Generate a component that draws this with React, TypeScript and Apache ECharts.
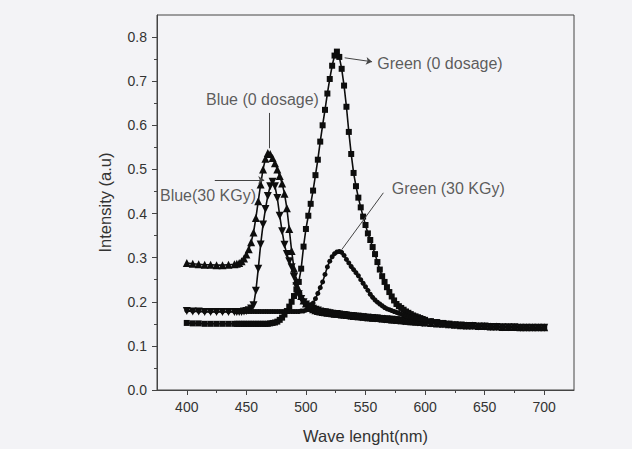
import React, { useEffect, useRef } from "react";
import * as echarts from "echarts";

// Wavelength grid (nm): 5 nm on the flat ends, 2 nm through the emission peaks.
const WAVELENGTH = [
  400, 405, 410, 415, 420, 425, 430, 435, 440,
  442, 444, 446, 448, 450, 452, 454, 456, 458, 460,
  462, 464, 466, 468, 470, 472, 474, 476, 478, 480,
  482, 484, 486, 488, 490, 492, 494, 496, 498, 500,
  502, 504, 506, 508, 510, 512, 514, 516, 518, 520,
  522, 524, 526, 528, 530, 532, 534, 536, 538, 540,
  542, 544, 546, 548, 550, 552, 554, 556, 558, 560,
  562, 564, 566, 568, 570, 572, 574, 576, 578, 580,
  582, 584, 586, 588, 590, 592, 594, 596, 598, 600,
  605, 610, 615, 620, 625, 630, 635, 640, 645, 650,
  655, 660, 665, 670, 675, 680, 685, 690, 695, 700,
];

const BLUE_0 = [
  0.288, 0.286, 0.285, 0.284, 0.284, 0.283, 0.283, 0.284, 0.285,
  0.286, 0.288, 0.292, 0.298, 0.307, 0.319, 0.335, 0.357, 0.39, 0.428,
  0.466, 0.5, 0.524, 0.537, 0.535, 0.526, 0.514, 0.5, 0.485, 0.468,
  0.445, 0.412, 0.365, 0.315, 0.275, 0.248, 0.228, 0.213, 0.203, 0.196,
  0.19, 0.186, 0.183, 0.181, 0.179, 0.178, 0.177, 0.176, 0.175, 0.175,
  0.174, 0.173, 0.173, 0.172, 0.171, 0.171, 0.17, 0.17, 0.169, 0.168,
  0.168, 0.167, 0.167, 0.166, 0.166, 0.165, 0.165, 0.164, 0.164, 0.163,
  0.163, 0.162, 0.162, 0.161, 0.161, 0.16, 0.16, 0.159, 0.159, 0.158,
  0.158, 0.157, 0.157, 0.156, 0.156, 0.155, 0.155, 0.154, 0.154, 0.153,
  0.152, 0.151, 0.15, 0.149, 0.148, 0.147, 0.146, 0.146, 0.145, 0.145,
  0.144, 0.144, 0.143, 0.143, 0.143, 0.142, 0.142, 0.142, 0.142, 0.142,
];

const BLUE_30 = [
  0.179, 0.178, 0.178, 0.177, 0.177, 0.177, 0.177, 0.177, 0.177,
  0.177, 0.177, 0.177, 0.178, 0.179, 0.181, 0.185, 0.192, 0.225, 0.275,
  0.33, 0.375, 0.41, 0.44, 0.462, 0.472, 0.462, 0.435, 0.395, 0.36,
  0.329, 0.308, 0.292, 0.278, 0.256, 0.235, 0.217, 0.206, 0.199, 0.194,
  0.19, 0.187, 0.184, 0.182, 0.18, 0.178, 0.177, 0.176, 0.175, 0.174,
  0.173, 0.172, 0.172, 0.171, 0.17, 0.17, 0.169, 0.168, 0.168, 0.167,
  0.166, 0.166, 0.165, 0.165, 0.164, 0.164, 0.163, 0.163, 0.162, 0.162,
  0.161, 0.161, 0.16, 0.16, 0.159, 0.159, 0.158, 0.158, 0.157, 0.157,
  0.156, 0.156, 0.155, 0.155, 0.154, 0.154, 0.153, 0.153, 0.152, 0.152,
  0.151, 0.15, 0.149, 0.148, 0.147, 0.146, 0.145, 0.145, 0.144, 0.144,
  0.143, 0.143, 0.142, 0.142, 0.142, 0.141, 0.141, 0.141, 0.141, 0.141,
];

const GREEN_0 = [
  0.152, 0.151, 0.151, 0.15, 0.15, 0.15, 0.15, 0.15, 0.15,
  0.15, 0.15, 0.15, 0.15, 0.15, 0.15, 0.15, 0.15, 0.15, 0.15,
  0.15, 0.15, 0.15, 0.15, 0.151, 0.152, 0.153, 0.155, 0.159, 0.164,
  0.171, 0.179, 0.189, 0.2, 0.213, 0.228, 0.245, 0.275, 0.325, 0.365,
  0.395, 0.422, 0.452, 0.487, 0.522, 0.563, 0.6, 0.635, 0.672, 0.705,
  0.735, 0.758, 0.767, 0.755, 0.728, 0.69, 0.642, 0.585, 0.535, 0.492,
  0.462, 0.436, 0.414, 0.393, 0.374, 0.355, 0.34, 0.324, 0.308, 0.29,
  0.273, 0.258, 0.245, 0.233, 0.222, 0.212, 0.203, 0.195, 0.19, 0.186,
  0.182, 0.178, 0.175, 0.172, 0.169, 0.167, 0.165, 0.163, 0.161, 0.159,
  0.156, 0.154, 0.152, 0.15, 0.148, 0.147, 0.146, 0.145, 0.145, 0.144,
  0.144, 0.143, 0.143, 0.142, 0.142, 0.142, 0.141, 0.141, 0.141, 0.141,
];

const GREEN_30 = [
  0.18, 0.179, 0.179, 0.178, 0.178, 0.178, 0.178, 0.178, 0.178,
  0.178, 0.178, 0.178, 0.178, 0.178, 0.178, 0.178, 0.178, 0.178, 0.178,
  0.178, 0.178, 0.178, 0.178, 0.178, 0.178, 0.178, 0.178, 0.178, 0.178,
  0.178, 0.178, 0.178, 0.178, 0.178, 0.178, 0.178, 0.179, 0.179, 0.181,
  0.185, 0.19, 0.197, 0.207, 0.219, 0.232, 0.245, 0.262, 0.279, 0.292,
  0.302, 0.309, 0.313, 0.314, 0.312, 0.305, 0.296, 0.288, 0.28, 0.273,
  0.266, 0.259, 0.25, 0.242, 0.234, 0.226, 0.217, 0.21, 0.204, 0.199,
  0.195, 0.191, 0.187, 0.184, 0.182, 0.18, 0.178, 0.176, 0.174, 0.172,
  0.17, 0.168, 0.166, 0.165, 0.164, 0.163, 0.162, 0.161, 0.16, 0.159,
  0.157, 0.155, 0.153, 0.151, 0.149, 0.148, 0.147, 0.146, 0.145, 0.145,
  0.144, 0.144, 0.143, 0.143, 0.142, 0.142, 0.142, 0.141, 0.141, 0.141,
];

const X_TICKS = [400, 450, 500, 550, 600, 650, 700];
const X_MINOR_TICKS = [425, 475, 525, 575, 625, 675];
const Y_TICKS = [0, 0.1, 0.2, 0.3, 0.4, 0.5, 0.6, 0.7, 0.8];
const Y_MINOR_TICKS = [0.05, 0.15, 0.25, 0.35, 0.45, 0.55, 0.65, 0.75];

// Callout texts placed in data coordinates, with their leader lines.
const NOTES = [
  { text: "Blue (0 dosage)", at: [463.5, 0.658], align: "center" },
  { text: "Blue(30 KGy)", at: [377.5, 0.44], align: "left" },
  { text: "Green (0 dosage)", at: [612.5, 0.741], align: "center" },
  { text: "Green (30 KGy)", at: [619.5, 0.456], align: "center" },
];
const LEADERS = [
  { from: [469.5, 0.628], to: [469.5, 0.548], arrow: false },
  { from: [423.5, 0.476], to: [465, 0.476], arrow: true },
  { from: [532.5, 0.753], to: [555.5, 0.744], arrow: true },
  { from: [565, 0.447], to: [530, 0.318], arrow: false },
];

const FONT = "'Liberation Sans', Arial, sans-serif";
const INK = "#0d0d0d";

function pairs(values: number[]) {
  return WAVELENGTH.map((w, i) => [w, values[i]]);
}

function spectrum(name: string, values: number[], symbol: string, size: number, rotate = 0) {
  return {
    name,
    type: "line",
    data: pairs(values),
    symbol,
    symbolSize: size,
    symbolRotate: rotate,
    showSymbol: true,
    lineStyle: { color: INK, width: 1.6 },
    itemStyle: { color: INK, borderWidth: 0 },
    silent: true,
    z: 3,
  };
}

export default function App() {
  const ref = useRef<HTMLDivElement>(null);

  useEffect(() => {
    if (!ref.current) return;
    const chart = echarts.init(ref.current, undefined, { renderer: "svg" });

    const axisText = { color: "#333", fontFamily: FONT, fontSize: 14 };

    chart.setOption({
      animation: false,
      backgroundColor: "#f3f3f6",
      grid: {
        left: 157,
        right: 58,
        top: 15,
        bottom: 59,
        show: true,
        borderColor: "#444",
        borderWidth: 1,
        backgroundColor: "transparent",
      },
      xAxis: [
        {
          type: "value",
          min: 375,
          max: 725,
          position: "bottom",
          name: "Wave lenght(nm)",
          nameLocation: "middle",
          nameGap: 37,
          nameTextStyle: { color: "#333", fontFamily: FONT, fontSize: 16.5 },
          axisLine: { show: true, lineStyle: { color: "#444", width: 1 } },
          axisTick: { show: true, customValues: X_TICKS, length: 5, inside: false, lineStyle: { color: "#444" } },
          axisLabel: { show: true, customValues: X_TICKS, margin: 10, ...axisText },
          splitLine: { show: false },
        },
        {
          type: "value",
          min: 375,
          max: 725,
          position: "bottom",
          axisLine: { show: false },
          axisTick: { show: true, customValues: X_MINOR_TICKS, length: 3, inside: false, lineStyle: { color: "#444" } },
          axisLabel: { show: false },
          splitLine: { show: false },
        },
      ],
      yAxis: [
        {
          type: "value",
          min: 0,
          max: 0.85,
          position: "left",
          name: "Intensity (a.u)",
          nameLocation: "middle",
          nameGap: 44,
          nameTextStyle: { color: "#333", fontFamily: FONT, fontSize: 16.5 },
          axisLine: { show: true, lineStyle: { color: "#444", width: 1 } },
          axisTick: { show: true, customValues: Y_TICKS, length: 5, inside: false, lineStyle: { color: "#444" } },
          axisLabel: {
            show: true,
            customValues: Y_TICKS,
            margin: 10,
            formatter: (v: number) => v.toFixed(1),
            ...axisText,
          },
          splitLine: { show: false },
        },
        {
          type: "value",
          min: 0,
          max: 0.85,
          position: "left",
          axisLine: { show: false },
          axisTick: { show: true, customValues: Y_MINOR_TICKS, length: 3, inside: false, lineStyle: { color: "#444" } },
          axisLabel: { show: false },
          splitLine: { show: false },
        },
      ],
      series: [
        spectrum("Blue (0 dosage)", BLUE_0, "triangle", 8),
        spectrum("Blue (30 KGy)", BLUE_30, "triangle", 8, 180),
        spectrum("Green (0 dosage)", GREEN_0, "rect", 6),
        spectrum("Green (30 KGy)", GREEN_30, "circle", 5),
        {
          name: "notes",
          type: "scatter",
          silent: true,
          symbolSize: 0,
          z: 5,
          data: NOTES.map((n) => ({
            value: n.at,
            label: {
              show: true,
              position: "inside",
              formatter: n.text,
              align: n.align,
              verticalAlign: "middle",
              color: "#333",
              fontFamily: FONT,
              fontSize: 16,
            },
          })),
          markLine: {
            silent: true,
            animation: false,
            label: { show: false },
            lineStyle: { color: "#444", width: 1, type: "solid" },
            symbolSize: 6,
            data: LEADERS.map((l) => [
              { coord: l.from, symbol: "none" },
              { coord: l.to, symbol: l.arrow ? "arrow" : "none" },
            ]),
          },
        },
      ],
    });

    return () => chart.dispose();
  }, []);

  return (
    <div
      ref={ref}
      style={{ position: "fixed", left: 0, top: 0, width: 632, height: 449 }}
    />
  );
}
